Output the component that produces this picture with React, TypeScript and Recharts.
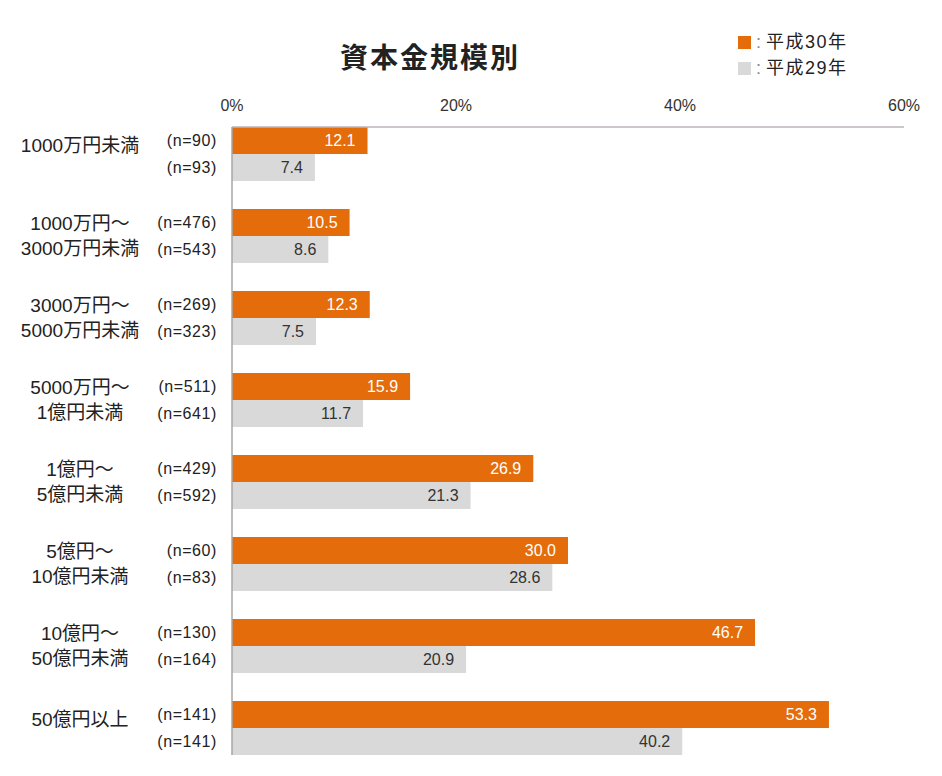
import React from "react";
import {
  BarChart,
  Bar,
  XAxis,
  YAxis,
  LabelList,
  ReferenceLine,
} from "recharts";

// categories (two-line labels split on \n)
const categories = [
  "1000万円未満",
  "1000万円～\n3000万円未満",
  "3000万円～\n5000万円未満",
  "5000万円～\n1億円未満",
  "1億円～\n5億円未満",
  "5億円～\n10億円未満",
  "10億円～\n50億円未満",
  "50億円以上",
];

const valuesH30 = [12.1, 10.5, 12.3, 15.9, 26.9, 30.0, 46.7, 53.3];
const valuesH29 = [7.4, 8.6, 7.5, 11.7, 21.3, 28.6, 20.9, 40.2];
const nH30 = [90, 476, 269, 511, 429, 60, 130, 141];
const nH29 = [93, 543, 323, 641, 592, 83, 164, 141];
const xTicks = [0, 20, 40, 60];
const legendItems = ["平成30年", "平成29年"];

const data = categories.map((name, i) => ({
  name,
  h30: valuesH30[i],
  h29: valuesH29[i],
  n30: `(n=${nH30[i]})`,
  n29: `(n=${nH29[i]})`,
}));

const ORANGE = "#E46C0A";
const GRAY = "#D9D9D9";
const FONT = "'Liberation Sans', 'Noto Sans CJK JP', sans-serif";

const WIDTH = 942;
const HEIGHT = 776;
const MARGIN = { top: 83, right: 38, bottom: 7, left: 0 };
const X_AXIS_H = 30;
const BAR = 27;
// gap between band edge and first bar
const plotH = HEIGHT - MARGIN.top - MARGIN.bottom - X_AXIS_H;
const EDGE = (plotH / categories.length - BAR * 2) / 2;

const CategoryTick = (props: any) => {
  const { x, y, payload } = props;
  const lines = String(payload.value).split("\n");
  const lh = 25;
  // single-line labels sit a little above the group centre
  const start = lines.length === 1 ? y - 9 : y - lh / 2 - 1;
  const cx = x - 144;
  return (
    <text
      x={cx}
      y={start}
      textAnchor="middle"
      dominantBaseline="central"
      fill="#222"
      fontSize={19}
      fontFamily={FONT}
    >
      {lines.map((l, i) => (
        <tspan key={i} x={cx} y={start + i * lh}>
          {l}
        </tspan>
      ))}
    </text>
  );
};

export default function App() {
  return (
    <div
      style={{
        position: "absolute",
        left: 0,
        top: 0,
        width: WIDTH,
        height: HEIGHT,
        background: "#fff",
        fontFamily: FONT,
      }}
    >
      <div
        style={{
          position: "absolute",
          left: 0,
          width: 860,
          top: 36,
          textAlign: "center",
          fontSize: 28,
          letterSpacing: 2,
          fontWeight: "bold",
          color: "#222",
          fontFamily: "'Noto Sans CJK JP', sans-serif",
        }}
      >
        資本金規模別
      </div>
      <div
        style={{
          position: "absolute",
          left: 738,
          top: 29,
          fontSize: 18,
          color: "#222",
          lineHeight: "26px",
        }}
      >
        {legendItems.map((t, i) => (
          <div key={t} style={{ display: "flex", alignItems: "center" }}>
            <span
              style={{
                display: "inline-block",
                width: 13,
                height: 13,
                background: i === 0 ? ORANGE : GRAY,
                marginRight: 5,
              }}
            />
            <span style={{ color: "#888", marginRight: 5 }}>:</span>
            <span style={{ letterSpacing: 1.5 }}>{t}</span>
          </div>
        ))}
      </div>
      <BarChart
        width={WIDTH}
        height={HEIGHT}
        data={data}
        layout="vertical"
        margin={MARGIN}
        barGap={0}
      >
        <XAxis
          type="number"
          orientation="top"
          domain={[0, 60]}
          ticks={xTicks}
          tickFormatter={(v) => `${v}%`}
          axisLine={false}
          tickLine={false}
          tickSize={0}
          tickMargin={2}
          height={X_AXIS_H}
          tick={{ fill: "#333", fontSize: 16, fontFamily: FONT }}
        />
        <YAxis
          type="category"
          dataKey="name"
          width={232}
          axisLine={false}
          tickLine={false}
          tick={<CategoryTick />}
          interval={0}
        />
        <ReferenceLine
          y={categories[0]}
          position="start"
          shape={(p: any) => (
            <line
              x1={p.x1}
              x2={p.x2}
              y1={p.y1 + EDGE}
              y2={p.y2 + EDGE}
              stroke="#BDB4BC"
              strokeWidth={1.5}
            />
          )}
        />
        <ReferenceLine
          x={0}
          shape={(p: any) => (
            <line
              x1={p.x1}
              x2={p.x2}
              y1={Math.min(p.y1, p.y2) + EDGE}
              y2={Math.max(p.y1, p.y2) - EDGE}
              stroke="#A6A6A6"
              strokeWidth={1.5}
            />
          )}
        />
        <Bar dataKey="h30" fill={ORANGE} barSize={BAR} isAnimationActive={false}>
          <LabelList
            dataKey="h30"
            position="insideRight"
            offset={12}
            formatter={(v: any) => Number(v).toFixed(1)}
            style={{ fill: "#fff", fontSize: 16, fontFamily: FONT }}
          />
          <LabelList
            dataKey="n30"
            position="left"
            offset={15}
            style={{ fill: "#222", fontSize: 16, letterSpacing: 0.6, fontFamily: FONT }}
          />
        </Bar>
        <Bar dataKey="h29" fill={GRAY} barSize={BAR} isAnimationActive={false}>
          <LabelList
            dataKey="h29"
            position="insideRight"
            offset={12}
            formatter={(v: any) => Number(v).toFixed(1)}
            style={{ fill: "#333", fontSize: 16, fontFamily: FONT }}
          />
          <LabelList
            dataKey="n29"
            position="left"
            offset={15}
            style={{ fill: "#222", fontSize: 16, letterSpacing: 0.6, fontFamily: FONT }}
          />
        </Bar>
      </BarChart>
    </div>
  );
}
